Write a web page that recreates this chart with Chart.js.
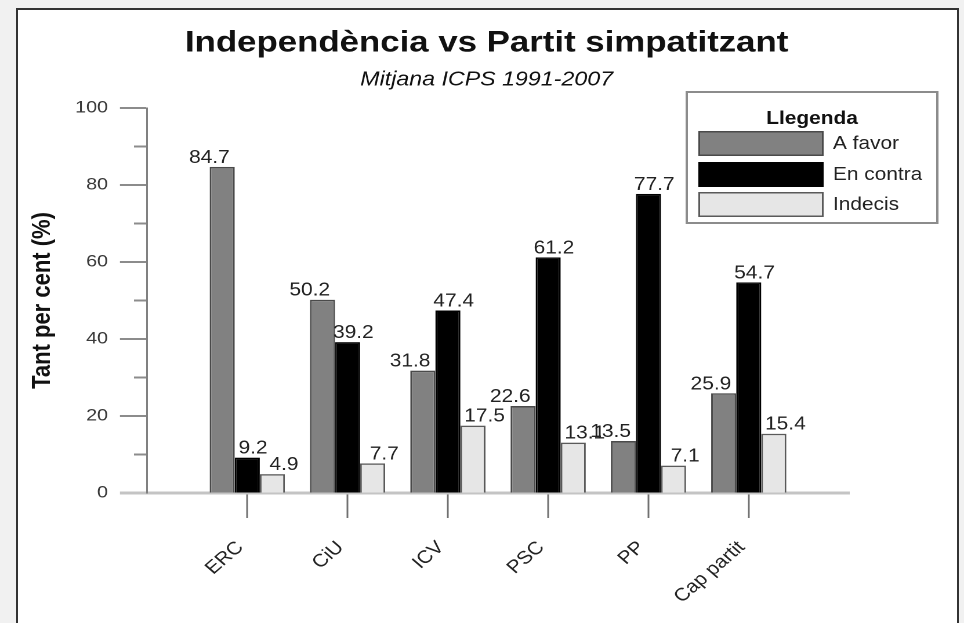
<!DOCTYPE html>
<html>
<head>
<meta charset="utf-8">
<script src="https://cdn.jsdelivr.net/npm/chart.js@4.4.1/dist/chart.umd.min.js"></script>
<style>
  html, body { margin: 0; padding: 0; overflow: hidden; background: #f1f1f1; }
  #frame { position: absolute; left: 16px; top: 8px; width: 943px; height: 615px; box-sizing: border-box;
           border: 2px solid #333; border-bottom: none; background: #fff; }
  #chart { position: absolute; left: 0; top: 0; }
</style>
</head>
<body>
<div id="frame"></div>
<!-- the source picture is stretched sideways, so the canvas is drawn narrow and widened by its inline size -->
<canvas id="chart" width="831" height="623" style="width:964px;height:623px"></canvas>
<script>
// Independència vs Partit simpatitzant - mitjana ICPS 1991-2007 (%)
const categories = ['ERC', 'CiU', 'ICV', 'PSC', 'PP', 'Cap partit'];
const aFavor   = [84.7, 50.2, 31.8, 22.6, 13.5, 25.9];
const enContra = [9.2, 39.2, 47.4, 61.2, 77.7, 54.7];
const indecis  = [4.9, 7.7, 17.5, 13.1, 7.1, 15.4];
const seriesNames = ['A favor', 'En contra', 'Indecis'];
const yTicks = [0, 20, 40, 60, 80, 100];

const FONT = "'Liberation Sans', Arial, sans-serif";
Chart.defaults.font.family = FONT;
Chart.defaults.color = '#222';

// categories sit on x = 1..6 of a 0..7 axis, like the original
const toPoints = vals => vals.map((v, i) => ({ x: i + 1, y: v }));

// value labels above each bar
const valueLabels = {
  id: 'valueLabels',
  afterDatasetsDraw(chart) {
    const ctx = chart.ctx;
    const shift = [-11, 5, 10];
    ctx.save();
    ctx.font = '18px ' + FONT;
    ctx.fillStyle = '#222';
    ctx.textAlign = 'center';
    ctx.textBaseline = 'alphabetic';
    chart.data.datasets.forEach((ds, di) => {
      chart.getDatasetMeta(di).data.forEach((bar, i) => {
        ctx.fillText(ds.data[i].y.toFixed(1), bar.x + shift[di], bar.y - 4);
      });
    });
    ctx.restore();
  }
};

// boxed legend with title, drawn over the top right of the plot
const legendBox = {
  id: 'legendBox',
  afterDraw(chart) {
    const ctx = chart.ctx;
    const rows = [131, 162, 192];
    ctx.save();
    ctx.fillStyle = '#fff';
    ctx.fillRect(592, 92, 216, 131);
    ctx.strokeStyle = '#8c8c8c';
    ctx.lineWidth = 2;
    ctx.strokeRect(592, 92, 216, 131);
    ctx.fillStyle = '#111';
    ctx.font = 'bold 18px ' + FONT;
    ctx.textAlign = 'center';
    ctx.textBaseline = 'middle';
    ctx.fillText('Llegenda', 700, 119);
    ctx.font = '18px ' + FONT;
    ctx.textAlign = 'left';
    chart.data.datasets.forEach((ds, i) => {
      ctx.fillStyle = ds.backgroundColor;
      ctx.fillRect(602, rows[i], 108, 25);
      ctx.strokeStyle = ds.borderColor;
      ctx.lineWidth = 1.5;
      ctx.strokeRect(602.75, rows[i] + 0.75, 106.5, 23.5);
      ctx.fillStyle = '#222';
      ctx.fillText(ds.label, 718, rows[i] + 13);
    });
    ctx.restore();
  }
};

new Chart(document.getElementById('chart'), {
  type: 'bar',
  data: {
    datasets: [
      { label: seriesNames[0], data: toPoints(aFavor), backgroundColor: '#818181', borderColor: '#4a4a4a', borderWidth: 1.5 },
      { label: seriesNames[1], data: toPoints(enContra), backgroundColor: '#000000', borderColor: '#000000', borderWidth: 1.5 },
      { label: seriesNames[2], data: toPoints(indecis), backgroundColor: '#e6e6e6', borderColor: '#5a5a5a', borderWidth: 1.5 }
    ]
  },
  options: {
    responsive: false,
    devicePixelRatio: 2,
    animation: false,
    categoryPercentage: 0.75,
    barPercentage: 1.0,
    layout: { padding: { left: 8, right: 0, top: 0, bottom: 0 } },
    plugins: {
      legend: { display: false },
      tooltip: { enabled: false },
      title: {
        display: true,
        text: 'Independència vs Partit simpatitzant',
        color: '#111',
        font: { size: 30, weight: 'bold' },
        padding: { top: 25, bottom: 0 }
      },
      subtitle: {
        display: true,
        text: 'Mitjana ICPS 1991-2007',
        color: '#111',
        font: { size: 20, style: 'italic' },
        padding: { top: 7, bottom: 16 }
      }
    },
    scales: {
      x: {
        type: 'linear',
        min: 0,
        max: 7,
        offset: false,
        afterFit: s => { s.height = 130; },
        border: { color: '#c4c4c4', width: 3 },
        grid: {
          drawOnChartArea: false,
          offset: false,
          tickLength: 25,
          tickWidth: 1.5,
          tickColor: c => (c.tick && categories[c.tick.value - 1]) ? '#707070' : 'rgba(0,0,0,0)'
        },
        ticks: {
          stepSize: 1,
          autoSkip: false,
          minRotation: 45,
          maxRotation: 45,
          padding: 19,
          labelOffset: -6,
          color: '#222',
          font: { size: 18 },
          callback: v => categories[v - 1] || ''
        }
      },
      y: {
        min: 0,
        max: 100,
        afterFit: s => { s.width = 118.7; },
        border: { color: '#808080', width: 1.5 },
        grid: {
          drawOnChartArea: false,
          tickLength: 23.3,
          tickWidth: c => (c.tick && c.tick.value === 0) ? 3 : 2,
          tickColor: c => (c.tick && c.tick.value === 0) ? '#c4c4c4' : '#8c8c8c',
          tickBorderDash: c => (c.tick && yTicks.includes(c.tick.value)) ? [] : [0, 12.1, 40]
        },
        ticks: {
          stepSize: 10,
          padding: 10.3,
          color: '#3a3a3a',
          font: { size: 17 },
          callback: v => yTicks.includes(v) ? String(v) : ''
        },
        title: {
          display: true,
          text: 'Tant per cent (%)',
          color: '#111',
          font: { size: 22, weight: 'bold' },
          padding: { top: 15.8, bottom: 0 }
        }
      },
      spare: {
        type: 'linear',
        position: 'right',
        afterFit: s => { s.width = 99.1; },
        ticks: { display: false },
        grid: { display: false },
        border: { display: false }
      }
    }
  },
  plugins: [valueLabels, legendBox]
});
</script>
</body>
</html>
